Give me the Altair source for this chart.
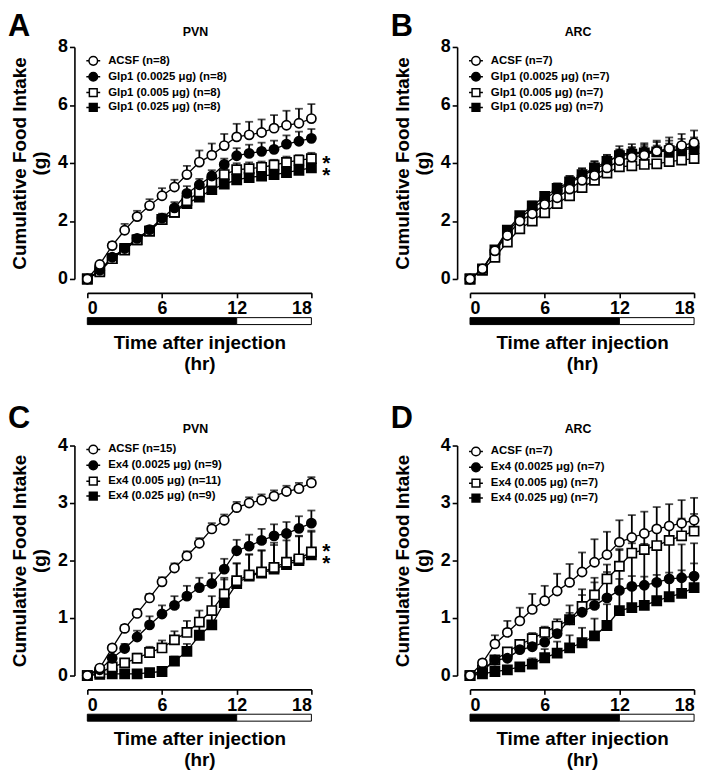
import altair as alt
import pandas as pd

FONT = "Liberation Sans"
hours = list(range(19))

# ---------------- Panel A : PVN, Glp1 ----------------
A_labels = ["ACSF (n=8)", "Glp1 (0.0025 μg) (n=8)", "Glp1 (0.005 μg) (n=8)", "Glp1 (0.025 μg) (n=8)"]
A_acsf = [0, 0.5, 1.15, 1.68, 2.15, 2.53, 2.87, 3.17, 3.6, 4.03, 4.27, 4.6, 4.9, 4.97, 5.05, 5.2, 5.3, 5.37, 5.53]
A_acsf_sem = [0, 0.05, 0.12, 0.22, 0.2, 0.22, 0.26, 0.25, 0.3, 0.4, 0.4, 0.4, 0.45, 0.45, 0.45, 0.45, 0.5, 0.5, 0.5]
A_g1 = [0, 0.3, 0.75, 1.05, 1.4, 1.7, 2.1, 2.45, 2.95, 3.25, 3.55, 3.95, 4.25, 4.33, 4.4, 4.47, 4.65, 4.75, 4.85]
A_g1_sem = [0, 0.05, 0.08, 0.1, 0.12, 0.12, 0.15, 0.2, 0.25, 0.2, 0.2, 0.2, 0.26, 0.3, 0.3, 0.3, 0.3, 0.33, 0.32]
A_g2 = [0, 0.25, 0.7, 1.0, 1.35, 1.65, 2.05, 2.3, 2.7, 3.0, 3.35, 3.6, 3.77, 3.8, 3.85, 3.93, 4.02, 4.1, 4.15]
A_g2_sem = [0, 0.03, 0.06, 0.08, 0.1, 0.1, 0.12, 0.13, 0.15, 0.15, 0.18, 0.2, 0.22, 0.22, 0.2, 0.18, 0.2, 0.17, 0.2]
A_g3 = [0, 0.3, 0.7, 1.05, 1.35, 1.65, 2.05, 2.3, 2.6, 2.82, 3.08, 3.27, 3.42, 3.5, 3.55, 3.6, 3.67, 3.75, 3.83]
A_g3_sem = [0, 0.03, 0.05, 0.07, 0.08, 0.08, 0.1, 0.1, 0.1, 0.1, 0.1, 0.1, 0.1, 0.1, 0.1, 0.1, 0.1, 0.1, 0.1]
A_star_y = [4.17, 3.76]

# ---------------- Panel B : ARC, Glp1 ----------------
B_labels = ["ACSF (n=7)", "Glp1 (0.0025 μg) (n=7)", "Glp1 (0.005 μg) (n=7)", "Glp1 (0.025 μg) (n=7)"]
B_acsf = [0, 0.35, 0.97, 1.5, 2.0, 2.25, 2.57, 2.8, 3.1, 3.4, 3.57, 3.83, 4.08, 4.2, 4.27, 4.4, 4.5, 4.6, 4.7]
B_acsf_sem = [0, 0.03, 0.08, 0.12, 0.15, 0.18, 0.2, 0.22, 0.25, 0.28, 0.3, 0.32, 0.35, 0.35, 0.36, 0.37, 0.38, 0.4, 0.42]
B_g1 = [0, 0.33, 0.98, 1.6, 2.1, 2.42, 2.75, 3.05, 3.3, 3.55, 3.78, 4.0, 4.3, 4.35, 4.38, 4.42, 4.45, 4.5, 4.55]
B_g1_sem = [0, 0.03, 0.08, 0.12, 0.15, 0.18, 0.2, 0.22, 0.25, 0.27, 0.28, 0.28, 0.28, 0.3, 0.3, 0.3, 0.32, 0.33, 0.33]
B_g2 = [0, 0.3, 0.75, 1.27, 1.73, 2.0, 2.28, 2.6, 2.87, 3.15, 3.4, 3.65, 3.87, 3.9, 3.95, 3.97, 4.05, 4.1, 4.15]
B_g2_sem = [0, 0.03, 0.05, 0.08, 0.1, 0.1, 0.1, 0.12, 0.12, 0.12, 0.12, 0.12, 0.12, 0.12, 0.12, 0.12, 0.12, 0.12, 0.12]
B_g3 = [0, 0.35, 1.0, 1.68, 2.18, 2.52, 2.85, 3.12, 3.35, 3.6, 3.83, 4.05, 4.25, 4.3, 4.35, 4.38, 4.42, 4.45, 4.5]
B_g3_sem = [0, 0.03, 0.06, 0.1, 0.12, 0.15, 0.15, 0.18, 0.2, 0.2, 0.22, 0.22, 0.22, 0.22, 0.22, 0.22, 0.25, 0.25, 0.25]

# ---------------- Panel C : PVN, Ex4 ----------------
C_labels = ["ACSF (n=15)", "Ex4 (0.0025 μg) (n=9)", "Ex4 (0.005 μg) (n=11)", "Ex4 (0.025 μg) (n=9)"]
C_acsf = [0, 0.13, 0.48, 0.82, 1.08, 1.35, 1.63, 1.87, 2.08, 2.3, 2.55, 2.7, 2.92, 3.0, 3.05, 3.12, 3.2, 3.25, 3.35]
C_acsf_sem = [0, 0.03, 0.05, 0.06, 0.07, 0.07, 0.08, 0.08, 0.08, 0.09, 0.1, 0.1, 0.1, 0.1, 0.1, 0.1, 0.1, 0.1, 0.1]
C_e1 = [0, 0.1, 0.3, 0.47, 0.67, 0.88, 1.07, 1.22, 1.38, 1.53, 1.6, 1.85, 2.17, 2.25, 2.35, 2.43, 2.47, 2.56, 2.65]
C_e1_sem = [0, 0.03, 0.05, 0.08, 0.11, 0.15, 0.15, 0.16, 0.18, 0.17, 0.18, 0.18, 0.19, 0.2, 0.2, 0.2, 0.2, 0.21, 0.22]
C_e2 = [0, 0.05, 0.15, 0.22, 0.3, 0.4, 0.48, 0.62, 0.75, 0.93, 1.13, 1.42, 1.65, 1.75, 1.8, 1.88, 1.97, 2.03, 2.15]
C_e2_sem = [0, 0.02, 0.04, 0.06, 0.08, 0.1, 0.13, 0.15, 0.2, 0.2, 0.25, 0.28, 0.3, 0.35, 0.37, 0.43, 0.45, 0.4, 0.37]
C_e3 = [0, 0.02, 0.03, 0.03, 0.03, 0.05, 0.07, 0.25, 0.42, 0.7, 0.88, 1.27, 1.6, 1.73, 1.78, 1.85, 1.93, 2.0, 2.1]
C_e3_sem = [0, 0.01, 0.01, 0.01, 0.01, 0.02, 0.03, 0.08, 0.13, 0.2, 0.3, 0.4, 0.35, 0.38, 0.4, 0.42, 0.42, 0.42, 0.4]
C_star_y = [2.25, 2.03]

# ---------------- Panel D : ARC, Ex4 ----------------
D_labels = ["ACSF (n=7)", "Ex4 (0.0025 μg) (n=7)", "Ex4 (0.005 μg) (n=7)", "Ex4 (0.025 μg) (n=7)"]
D_acsf = [0, 0.22, 0.55, 0.75, 0.95, 1.15, 1.3, 1.47, 1.62, 1.8, 1.97, 2.1, 2.32, 2.4, 2.47, 2.55, 2.6, 2.65, 2.7]
D_acsf_sem = [0, 0.05, 0.15, 0.2, 0.23, 0.27, 0.26, 0.3, 0.32, 0.34, 0.4, 0.4, 0.38, 0.39, 0.38, 0.38, 0.38, 0.4, 0.39]
D_e1 = [0, 0.08, 0.27, 0.3, 0.45, 0.5, 0.58, 0.73, 0.97, 1.1, 1.22, 1.35, 1.48, 1.55, 1.57, 1.62, 1.68, 1.7, 1.73]
D_e1_sem = [0, 0.02, 0.05, 0.07, 0.1, 0.12, 0.15, 0.2, 0.25, 0.3, 0.4, 0.45, 0.7, 0.75, 0.72, 0.68, 0.62, 0.58, 0.57]
D_e2 = [0, 0.1, 0.27, 0.41, 0.54, 0.64, 0.75, 0.86, 0.97, 1.2, 1.4, 1.68, 1.9, 2.13, 2.19, 2.26, 2.35, 2.43, 2.51]
D_e2_sem = [0, 0.03, 0.04, 0.05, 0.07, 0.1, 0.1, 0.12, 0.12, 0.3, 0.3, 0.25, 0.3, 0.3, 0.3, 0.3, 0.3, 0.3, 0.3]
D_e3 = [0, 0.03, 0.07, 0.1, 0.15, 0.2, 0.31, 0.39, 0.48, 0.57, 0.69, 0.87, 1.13, 1.18, 1.22, 1.3, 1.37, 1.43, 1.53]
D_e3_sem = [0, 0.02, 0.03, 0.04, 0.06, 0.1, 0.15, 0.2, 0.22, 0.26, 0.3, 0.37, 0.55, 0.55, 0.5, 0.45, 0.42, 0.4, 0.42]

# dark / light phase bar
phase_start = [0, 12]
phase_end = [12, 18]
phase_fill = ["black", "white"]
x_ticks = [0, 6, 12, 18]

marker_shapes = ["circle", "circle", "square", "square"]
marker_fills = ["white", "black", "white", "black"]
legend_shapes = [
    "M-1,0H-0.62M0.62,0H1M-0.62,0A0.62,0.62,0,1,0,0.62,0A0.62,0.62,0,1,0,-0.62,0Z",
    "M-1,0H-0.62M0.62,0H1M-0.62,0A0.62,0.62,0,1,0,0.62,0A0.62,0.62,0,1,0,-0.62,0Z",
    "M-1,0H-0.56M0.56,0H1M-0.56,-0.56H0.56V0.56H-0.56Z",
    "M-1,0H-0.56M0.56,0H1M-0.56,-0.56H0.56V0.56H-0.56Z",
]

W = 226


def make_panel(letter, region, labels, means, sems, ymax, ystep, H,
               leg_y, letter_y, title_y, star_y=None):
    recs = []
    for i in reversed(range(4)):
        for t, m, s in zip(hours, means[i], sems[i]):
            recs.append({"hour": t, "mean": m, "top": m + s, "series": labels[i]})
    df = pd.DataFrame(recs)

    xaxis = alt.Axis(values=x_ticks, offset=14, tickSize=5, labelPadding=2,
                     title=["Time after injection", "(hr)"], titlePadding=16,
                     titleLineHeight=21)
    yaxis = alt.Axis(values=list(range(0, ymax + 1, ystep)), offset=13, tickSize=5,
                     labelPadding=2, title=["Cumulative Food Intake", "(g)"],
                     titlePadding=8, titleLineHeight=20)
    xsc = alt.Scale(domain=[0, 18], nice=False, zero=False)
    ysc = alt.Scale(domain=[0, ymax], nice=False)

    def X(f):
        return alt.X(f, type="quantitative", scale=xsc, axis=xaxis)

    def Y(f):
        return alt.Y(f, type="quantitative", scale=ysc, axis=yaxis)

    base = alt.Chart(df)
    err = base.mark_rule(color="black", strokeWidth=1.8).encode(
        x=X("hour"), y=Y("mean"), y2="top:Q")
    cap = base.mark_tick(color="black", orient="horizontal", size=8, thickness=1.8).encode(
        x=X("hour"), y=Y("top"))
    line = base.mark_line(color="black", strokeWidth=1.3).encode(
        x=X("hour"), y=Y("mean"), detail="series:N")
    pts = base.mark_point(filled=True, stroke="black", strokeWidth=1.7, opacity=1, size=85).encode(
        x=X("hour"), y=Y("mean"),
        shape=alt.Shape("series:N", scale=alt.Scale(domain=labels, range=marker_shapes), legend=None),
        fill=alt.Fill("series:N", scale=alt.Scale(domain=labels, range=marker_fills), legend=None),
    )

    leg_kw = dict(orient="none", legendX=-2, legendY=leg_y, title=None, padding=0,
                  labelFont=FONT, labelFontSize=11.5, labelFontWeight="bold", labelColor="black",
                  labelOffset=7, labelLimit=0, rowPadding=0, symbolSize=196,
                  symbolStrokeWidth=1.5, symbolStrokeColor="black", symbolOpacity=1)
    leg_df = pd.DataFrame({"leg": labels})
    leg = alt.Chart(leg_df).mark_point(filled=True, stroke="black", strokeWidth=1.5, opacity=1).encode(
        shape=alt.Shape("leg:N", scale=alt.Scale(domain=labels, range=legend_shapes),
                        legend=alt.Legend(**leg_kw)),
        fill=alt.Fill("leg:N", scale=alt.Scale(domain=labels, range=marker_fills),
                      legend=alt.Legend(**leg_kw)),
        stroke=alt.Stroke("leg:N", scale=alt.Scale(domain=labels, range=["black"] * 4),
                          legend=alt.Legend(**leg_kw)),
    ).transform_filter("datum.leg == 'nothing'")

    ph_df = pd.DataFrame({"start": phase_start, "end": phase_end, "fill": phase_fill})
    phase = alt.Chart(ph_df).mark_rect(stroke="black", strokeWidth=1).encode(
        x=X("start"), x2="end:Q",
        y=alt.value(H + 39), y2=alt.value(H + 46),
        fill=alt.Fill("fill:N", scale=None),
    )

    let = alt.Chart(pd.DataFrame({"t": [letter]})).mark_text(
        font=FONT, fontSize=31, fontWeight="bold", align="left", baseline="top", color="black"
    ).encode(text="t:N", x=alt.value(-80), y=alt.value(letter_y))

    ttl = alt.Chart(pd.DataFrame({"t": [region]})).mark_text(
        font=FONT, fontSize=12.5, fontWeight="bold", align="center", baseline="middle", color="black"
    ).encode(text="t:N", x=alt.value(W / 2 - 4), y=alt.value(title_y))

    layers = [phase, err, cap, line, pts, leg, let, ttl]
    if star_y is not None:
        # two significance asterisks stacked beside the last points
        st_df = pd.DataFrame({"hour": [18], "sy": [sum(star_y) / len(star_y)]})
        stars = alt.Chart(st_df).mark_text(
            text=["*"] * len(star_y), lineHeight=12, font=FONT, fontSize=21,
            fontWeight="bold", dx=15, dy=0, color="black", baseline="middle"
        ).encode(x=X("hour"), y=Y("sy"))
        layers.append(stars)

    return alt.layer(*layers).resolve_scale(
        shape="independent", fill="independent", stroke="independent"
    ).properties(width=W, height=H)


pA = make_panel("A", "PVN", A_labels, [A_acsf, A_g1, A_g2, A_g3],
                [A_acsf_sem, A_g1_sem, A_g2_sem, A_g3_sem], 8, 2, 234,
                leg_y=6, letter_y=-35, title_y=-15, star_y=A_star_y)
pB = make_panel("B", "ARC", B_labels, [B_acsf, B_g1, B_g2, B_g3],
                [B_acsf_sem, B_g1_sem, B_g2_sem, B_g3_sem], 8, 2, 234,
                leg_y=6, letter_y=-35, title_y=-15)
pC = make_panel("C", "PVN", C_labels, [C_acsf, C_e1, C_e2, C_e3],
                [C_acsf_sem, C_e1_sem, C_e2_sem, C_e3_sem], 4, 1, 232,
                leg_y=-4, letter_y=-42, title_y=-17, star_y=C_star_y)
pD = make_panel("D", "ARC", D_labels, [D_acsf, D_e1, D_e2, D_e3],
                [D_acsf_sem, D_e1_sem, D_e2_sem, D_e3_sem], 4, 1, 232,
                leg_y=-2, letter_y=-42, title_y=-17)

ind = dict(shape="independent", fill="independent", stroke="independent")
row1 = alt.hconcat(pA, pB, spacing=60).resolve_scale(**ind)
row2 = alt.hconcat(pC, pD, spacing=60).resolve_scale(**ind)

chart = alt.vconcat(row1, row2, spacing=30).resolve_scale(**ind).properties(
    padding=0
).configure_view(stroke=None).configure_axis(
    grid=False, domainColor="black", domainWidth=1.6, tickColor="black", tickWidth=1.6,
    labelFont=FONT, labelFontSize=18, labelFontWeight="bold", labelColor="black",
    titleFont=FONT, titleFontSize=19, titleFontWeight="bold", titleColor="black",
)

chart.save("out.html", embed_options={"renderer": "svg", "actions": False})
